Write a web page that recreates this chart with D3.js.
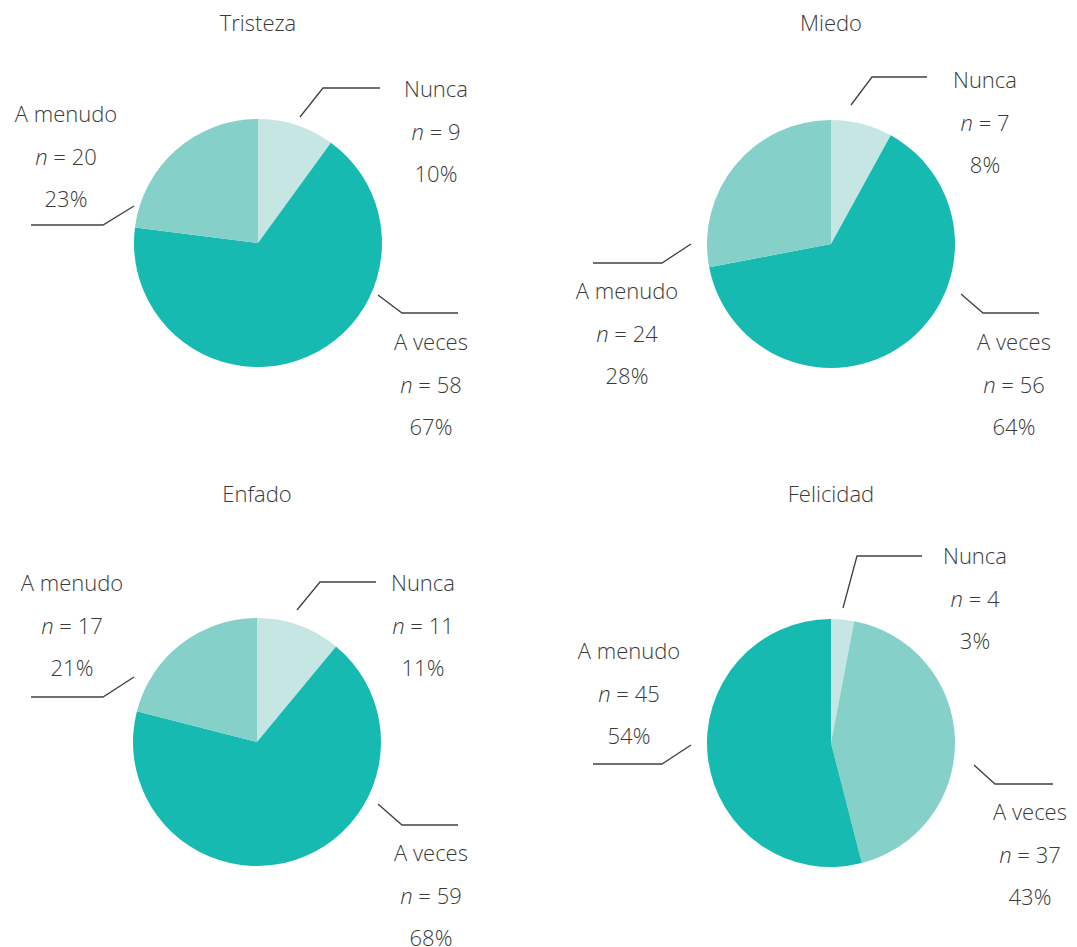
<!DOCTYPE html>
<html>
<head>
<meta charset="utf-8">
<script src="https://cdn.jsdelivr.net/npm/d3@7"></script>
<style>
  html, body { margin: 0; padding: 0; background: #ffffff; }
  svg { display: block; }
  text { font-family: "Open Sans", "Noto Sans", sans-serif; font-weight: 300; fill: #3a3a3a; }
</style>
</head>
<body>
<svg id="chart" width="1077" height="947"></svg>
<script>
// ---- data ----
const charts = ["Tristeza", "Miedo", "Enfado", "Felicidad"];
const categories = ["Nunca", "A veces", "A menudo"];
const countsTristeza  = [9, 58, 20];
const countsMiedo     = [7, 56, 24];
const countsEnfado    = [11, 59, 17];
const countsFelicidad = [4, 37, 45];
const pctTristeza  = [10, 67, 23];
const pctMiedo     = [8, 64, 28];
const pctEnfado    = [11, 68, 21];
const pctFelicidad = [3, 43, 54];

const counts = [countsTristeza, countsMiedo, countsEnfado, countsFelicidad];
const pcts = [pctTristeza, pctMiedo, pctEnfado, pctFelicidad];

// ---- layout ----
const rankColors = ["#17bab1", "#85d0c9", "#c6e6e4"]; // largest, middle, smallest
const centers = [[258, 243], [831, 244], [257, 742], [831, 743]];
const radius = 124;
const titleY = [22, 22, 493, 493];
// label layout per chart per category: leader polyline (relative to centre) + text x/y (relative)
const labelLayout = [
  [ {line: [[42,-126],[65,-155],[122,-155]], tx: 178, ty: -155},
    {line: [[120,52],[144,70],[200,70]], tx: 173, ty: 98},
    {line: [[-124,-37],[-155,-18],[-227,-18]], tx: -192, ty: -130} ],
  [ {line: [[20,-139],[41,-167],[96,-167]], tx: 154, ty: -165},
    {line: [[130,50],[152,69],[208,69]], tx: 183, ty: 97},
    {line: [[-140,0],[-169,19],[-238,19]], tx: -204, ty: 46} ],
  [ {line: [[40,-132],[63,-160],[119,-160]], tx: 166, ty: -160},
    {line: [[121,62],[145,83],[201,83]], tx: 174, ty: 110},
    {line: [[-123,-65],[-154,-45],[-226,-45]], tx: -185, ty: -160} ],
  [ {line: [[12,-135],[26,-187],[91,-187]], tx: 144, ty: -188},
    {line: [[143,22],[164,41],[222,41]], tx: 199, ty: 68},
    {line: [[-140,2],[-169,21],[-238,21]], tx: -202, ty: -93} ]
];
const lineGap = 42.5;
const fontSize = 22;

const svg = d3.select("#chart");
const pie = d3.pie().sort(null).value(d => d.pct);
const arc = d3.arc().innerRadius(0).outerRadius(radius);

charts.forEach((name, i) => {
  const data = categories.map((c, j) => ({cat: c, n: counts[i][j], pct: pcts[i][j]}));
  const sorted = data.map(d => d.pct).slice().sort((a, b) => b - a);
  const color = d => rankColors[sorted.indexOf(d.pct)];
  const [cx, cy] = centers[i];

  svg.append("text")
    .attr("x", cx).attr("y", titleY[i])
    .attr("text-anchor", "middle").attr("dominant-baseline", "central")
    .attr("font-size", fontSize)
    .text(name);

  const g = svg.append("g").attr("transform", `translate(${cx},${cy})`);
  g.selectAll("path.slice")
    .data(pie(data))
    .join("path")
    .attr("class", "slice")
    .attr("d", arc)
    .attr("fill", d => color(d.data));

  data.forEach((d, j) => {
    const L = labelLayout[i][j];
    g.append("path")
      .attr("d", d3.line()(L.line))
      .attr("fill", "none")
      .attr("stroke", "#404040")
      .attr("stroke-width", 1.3);
    g.append("text")
      .attr("text-anchor", "middle").attr("font-size", fontSize)
      .attr("x", L.tx).attr("y", L.ty).attr("dominant-baseline", "central")
      .text(d.cat);
    const t2 = g.append("text").attr("text-anchor", "middle").attr("font-size", fontSize)
      .attr("x", L.tx).attr("y", L.ty + lineGap).attr("dominant-baseline", "central");
    t2.append("tspan").attr("font-style", "italic").text("n");
    t2.append("tspan").text(" = " + d.n);
    g.append("text").attr("text-anchor", "middle").attr("font-size", fontSize)
      .attr("x", L.tx).attr("y", L.ty + 2 * lineGap).attr("dominant-baseline", "central")
      .text(d.pct + "%");
  });
});
</script>
</body>
</html>
